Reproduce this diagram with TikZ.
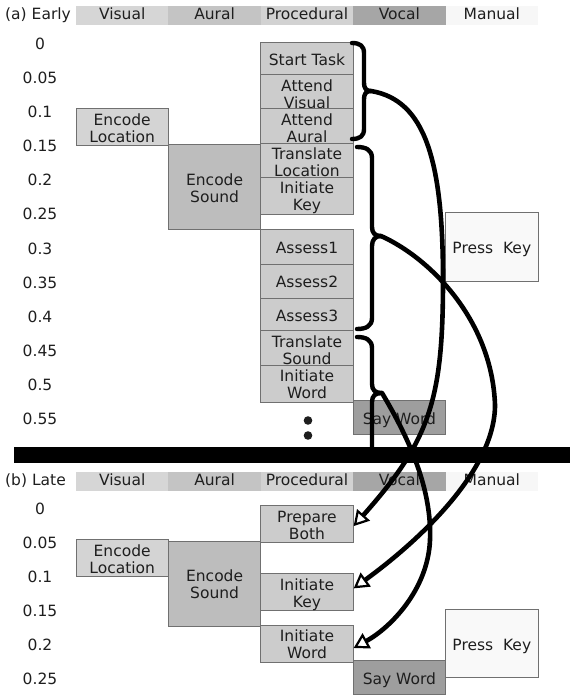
\documentclass[tikz,border=0pt]{standalone}
\usepackage{fontspec}
\setmainfont{DejaVu Sans}
\usetikzlibrary{arrows.meta}

\definecolor{edge}{HTML}{707070}
\definecolor{ink}{HTML}{1E1E1E}
\definecolor{visfill}{HTML}{D4D4D4}
\definecolor{aurfill}{HTML}{BDBDBD}
\definecolor{procfill}{HTML}{CCCCCC}
\definecolor{vocfill}{HTML}{9E9E9E}
\definecolor{manfill}{HTML}{F9F9F9}
\definecolor{hvis}{HTML}{D6D6D6}
\definecolor{haur}{HTML}{C4C4C4}
\definecolor{hproc}{HTML}{D2D2D2}
\definecolor{hvoc}{HTML}{A6A6A6}
\definecolor{hman}{HTML}{F7F7F7}

\newcommand\boxfont{\fontsize{15.5}{17}\selectfont}
% struts that put every box text at the same height in its box
\newcommand\boxtxt[1]{\rule{0pt}{16.5pt}#1\rule[-3.5pt]{0pt}{3.5pt}}

\begin{document}
\begin{tikzpicture}[x=1pt, y=-1pt,
  cell/.style={draw=edge, line width=0.9pt, inner sep=0pt, minimum width=92.4pt,
    minimum height=34.15pt, text=ink, font=\boxfont, align=center},
  vis/.style={cell, fill=visfill},
  aur/.style={cell, fill=aurfill, minimum height=85.4pt},
  proc/.style={cell, fill=procfill},
  voc/.style={cell, fill=vocfill},
  man/.style={cell, fill=manfill, minimum height=68.3pt},
  hdr/.style={inner sep=0pt, minimum width=92.4pt, minimum height=19pt,
    text height=11pt, text depth=3pt, text=ink, font=\boxfont},
  lead/.style={anchor=west, inner sep=0pt, text height=11pt, text depth=3pt,
    text=ink, font=\boxfont},
  tick/.style={inner sep=0pt, text=ink, font=\boxfont},
  bracepath/.style={line width=4.4pt, line cap=round, line join=round},
  flow/.style={line width=4.6pt, line cap=round, line join=round,
    -{Triangle[length=15pt, width=17pt, line width=2.2pt, fill=white]}},
]
\useasboundingbox (0,0) rectangle (570,695);

% ---------------- (a) early ----------------
\node[lead] (capA) at (5,15.5) {(a) Early};
\node[hdr, fill=hvis]  (hA1) at (122.2,15.5) {Visual};
\node[hdr, fill=haur]  (hA2) at (214.6,15.5) {Aural};
\node[hdr, fill=hproc] (hA3) at (307,15.5)   {Procedural};
\node[hdr, fill=hvoc]  (hA4) at (399.4,15.5) {Vocal};
\node[hdr, fill=hman]  (hA5) at (491.8,15.5) {Manual};

\foreach \s [count=\i from 0] in {0,0.05,0.1,0.15,0.2,0.25,0.3,0.35,0.4,0.45,0.5,0.55}
  \node[tick] (ta\i) at (40,{43.5+34.15*\i}) {\s};

\node[proc] (startT)  at (307,59.08)  {\boxtxt{Start Task}};
\node[proc] (attV)    at (307,93.23)  {\boxtxt{Attend\\Visual}};
\node[proc] (attA)    at (307,127.38) {\boxtxt{Attend\\Aural}};
\node[proc] (trLoc)   at (307,161.53) {\boxtxt{Translate\\Location}};
\node[proc] (iniK)    at (307,195.68) {\boxtxt{Initiate\\Key}};
\node[proc] (assess1) at (307,246.9)  {\boxtxt{Assess1}};
\node[proc] (assess2) at (307,281.05) {\boxtxt{Assess2}};
\node[proc] (assess3) at (307,315.2)  {\boxtxt{Assess3}};
\node[proc] (trSnd)   at (307,349.35) {\boxtxt{Translate\\Sound}};
\node[proc] (iniW)    at (307,383.5)  {\boxtxt{Initiate\\Word}};
\node[voc]  (sayW)    at (399.4,417.65) {\boxtxt{Say Word}};
\node[vis]  (encLoc)  at (122.2,127.38) {\boxtxt{Encode\\Location}};
\node[aur]  (encSnd)  at (214.6,187.14) {\boxtxt{Encode\\Sound}};
\node[man]  (pressK)  at (491.8,246.9)  {\boxtxt{Press\ \ Key}};

% continuation dots
\fill[ink] (308,420.5) circle[radius=4.3pt];
\fill[ink] (308,435.5) circle[radius=4.3pt];

% braces grouping the procedural steps
\draw[bracepath] (352,43) .. controls (360,43) and (364,46) .. (364,53) -- (364,83)
  .. controls (364,88) and (366,91) .. (371,91)
  .. controls (366,91) and (364,94) .. (364,99) -- (364,129)
  .. controls (364,136) and (360,139) .. (352,139);
\coordinate (tip1) at (371,91);

\draw[bracepath] (357,147) .. controls (366,147) and (372,150) .. (372,158) -- (372,227)
  .. controls (372,233) and (375,236) .. (381,236)
  .. controls (375,236) and (372,240) .. (372,246) -- (372,318)
  .. controls (372,326) and (366,329) .. (357,329);
\coordinate (tip2) at (381,236);

\draw[bracepath] (357,337) .. controls (366,337) and (372,340) .. (372,348) -- (372,384)
  .. controls (372,390) and (375,393) .. (382,393)
  .. controls (375,393) and (372,396) .. (372,402) -- (372,452);
\coordinate (tip3) at (382,393);

% separator between the two schedules
\fill (14,447) rectangle (570,463);

% ---------------- (b) late ----------------
\node[lead] (capB) at (5,481.5) {(b) Late};
\node[hdr, fill=hvis]  (hB1) at (122.2,481.5) {Visual};
\node[hdr, fill=haur]  (hB2) at (214.6,481.5) {Aural};
\node[hdr, fill=hproc] (hB3) at (307,481.5)   {Procedural};
\node[hdr, fill=hvoc]  (hB4) at (399.4,481.5) {Vocal};
\node[hdr, fill=hman]  (hB5) at (491.8,481.5) {Manual};

\foreach \s [count=\i from 0] in {0,0.05,0.1,0.15,0.2,0.25}
  \node[tick] (tb\i) at (40,{508.5+34.15*\i}) {\s};

\node[proc] (prepB)   at (307,524.08)   {\boxtxt{Prepare\\Both}};
\node[vis]  (encLocB) at (122.2,558.23) {\boxtxt{Encode\\Location}};
\node[aur]  (encSndB) at (214.6,583.84) {\boxtxt{Encode\\Sound}};
\node[proc] (iniKb)   at (307,592.38)   {\boxtxt{Initiate\\Key}};
\node[proc] (iniWb)   at (307,643.6)    {\boxtxt{Initiate\\Word}};
\node[voc]  (sayWb)   at (399.4,677.75) {\boxtxt{Say Word}};
\node[man]  (pressKb) at (491.8,643.6)  {\boxtxt{Press\ \ Key}};

% ---------------- compiled steps ----------------
\draw[flow] (tip1) .. controls (425,100) and (443,160) .. (443,280)
  .. controls (443,400) and (430,440) .. ([yshift=-2pt]prepB.east);
\draw[flow] (tip2) .. controls (430,258) and (492,320) .. (495,405)
  .. controls (495,470) and (420,540) .. ([yshift=4pt]iniKb.east);
\draw[flow] (tip3) .. controls (410,440) and (432,490) .. (430,540)
  .. controls (428,590) and (390,628) .. ([yshift=-4.4pt]iniWb.east);
\end{tikzpicture}
\end{document}
